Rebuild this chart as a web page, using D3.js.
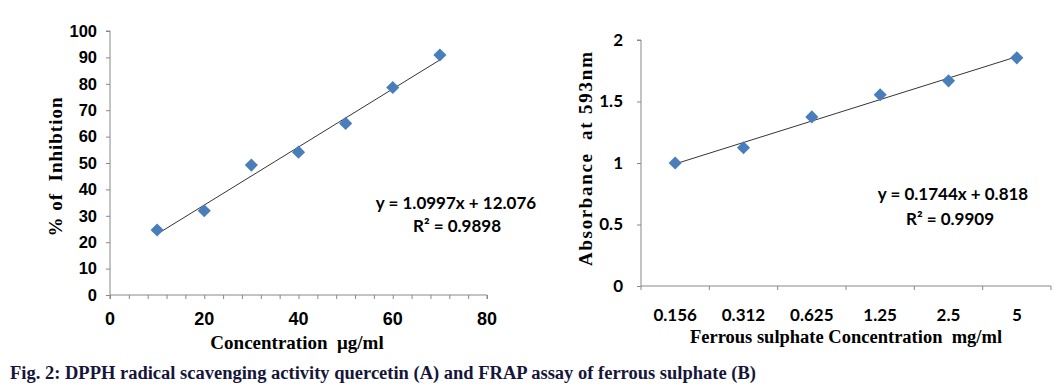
<!DOCTYPE html>
<html>
<head>
<meta charset="utf-8">
<script src="https://cdn.jsdelivr.net/npm/d3@7"></script>
<style>
  body { margin: 0; background: #fff; }
  svg text { fill: #000; }
</style>
</head>
<body>
<div id="chart"></div>
<script>
const width = 1054;
const height = 388;

// chart A: DPPH
const concA = [10, 20, 30, 40, 50, 60, 70];
const inhibA = [24.6, 31.9, 49.2, 54.1, 65.0, 78.6, 90.9];
const slopeA = 1.0997, interceptA = 12.076;
const eqA = 'y = 1.0997x + 12.076';
const r2A = 'R² = 0.9898';

// chart B: FRAP
const concB = ['0.156', '0.312', '0.625', '1.25', '2.5', '5'];
const absB = [1.0, 1.124, 1.375, 1.555, 1.668, 1.855];
const slopeB = 0.1744, interceptB = 0.818;
const eqB = 'y = 0.1744x + 0.818';
const r2B = 'R² = 0.9909';

const caption = 'Fig. 2: DPPH radical scavenging activity quercetin (A) and FRAP assay of ferrous sulphate (B)';

const blue = '#4a7ebb';
const serif = '"Liberation Serif", "Times New Roman", serif';
const sans = '"Liberation Sans", Arial, sans-serif';
const calib = 'Lato, "Open Sans", sans-serif';

const svg = d3.select('#chart').append('svg')
    .attr('width', width)
    .attr('height', height);

function diamond(g, x, y) {
    g.append('path')
        .attr('d', d3.symbol().type(d3.symbolDiamond2).size(110)())
        .attr('transform', `translate(${x},${y})`)
        .attr('fill', blue);
}

// ---------- chart A ----------
const xA = d3.scaleLinear().domain([0, 80]).range([110, 487]);
const yA = d3.scaleLinear().domain([0, 100]).range([295, 31]);

const gA = svg.append('g');

gA.append('g')
    .attr('transform', `translate(110,0)`)
    .call(d3.axisLeft(yA).tickValues(d3.range(0, 101, 10)).tickSize(4).tickPadding(9))
    .call(g => g.select('.domain').attr('stroke', '#888').attr('d', `M-4,${yA(100)}H0V${yA(0)}`))
    .call(g => g.selectAll('.tick line').attr('stroke', '#888'))
    .call(g => g.selectAll('.tick text').style('font', `bold 16.5px ${sans}`));

gA.append('g')
    .attr('transform', `translate(0,295)`)
    .call(d3.axisBottom(xA).tickValues(d3.range(0, 81, 4)).tickSize(4).tickFormat(() => ''))
    .call(g => g.select('.domain').attr('stroke', '#888').attr('d', `M${xA(0)},4V0H${xA(80)}V4`))
    .call(g => g.selectAll('.tick line').attr('stroke', '#888'));

gA.selectAll('.xlab')
    .data(d3.range(0, 81, 20))
    .join('text')
    .attr('x', d => xA(d))
    .attr('y', 325)
    .attr('text-anchor', 'middle')
    .style('font', `bold 18px ${sans}`)
    .text(d => d);

gA.append('line')
    .attr('x1', xA(10)).attr('y1', yA(slopeA * 10 + interceptA))
    .attr('x2', xA(70)).attr('y2', yA(slopeA * 70 + interceptA))
    .attr('stroke', '#000').attr('stroke-width', 0.8);

concA.forEach((c, i) => diamond(gA, xA(c), yA(inhibA[i])));

gA.append('text')
    .attr('x', 456).attr('y', 209)
    .attr('text-anchor', 'middle')
    .style('font', `bold 17px ${calib}`)
    .text(eqA);
gA.append('text')
    .attr('x', 457).attr('y', 232)
    .attr('text-anchor', 'middle')
    .style('font', `bold 17px ${calib}`)
    .text(r2A);

gA.append('text')
    .attr('transform', 'translate(62,167) rotate(-90)')
    .attr('text-anchor', 'middle')
    .attr('textLength', 139)
    .attr('lengthAdjust', 'spacing')
    .style('font', `bold 19px ${serif}`)
    .attr('xml:space', 'preserve')
    .text('% of  Inhibtion');

gA.append('text')
    .attr('x', 297).attr('y', 349)
    .attr('text-anchor', 'middle')
    .style('font', `bold 19px ${serif}`)
    .attr('xml:space', 'preserve')
    .text('Concentration  μg/ml');

// ---------- chart B ----------
const xB = d3.scaleBand().domain(concB).range([641, 1051]);
const yB = d3.scaleLinear().domain([0, 2]).range([286, 40]);

const gB = svg.append('g');

gB.append('g')
    .attr('transform', `translate(641,0)`)
    .call(d3.axisLeft(yB).tickValues([0, 0.5, 1, 1.5, 2]).tickSize(4).tickPadding(14).tickFormat(d => d))
    .call(g => g.select('.domain').attr('stroke', '#888').attr('d', `M-4,${yB(2)}H0V${yB(0)}`))
    .call(g => g.selectAll('.tick line').attr('stroke', '#888'))
    .call(g => g.selectAll('.tick text').style('font', `bold 17px ${calib}`));

const bounds = concB.map(c => xB(c)).concat([xB.range()[1]]);
gB.append('line')
    .attr('x1', 641).attr('x2', 1051).attr('y1', 286).attr('y2', 286)
    .attr('stroke', '#888');
gB.selectAll('.btick')
    .data(bounds)
    .join('line')
    .attr('x1', d => d).attr('x2', d => d)
    .attr('y1', 286).attr('y2', 290)
    .attr('stroke', '#888');

gB.selectAll('.xlab')
    .data(concB)
    .join('text')
    .attr('x', d => xB(d) + xB.bandwidth() / 2)
    .attr('y', 321)
    .attr('text-anchor', 'middle')
    .style('font', `bold 17px ${calib}`)
    .text(d => d);

const cx = i => xB(concB[i]) + xB.bandwidth() / 2;
gB.append('line')
    .attr('x1', cx(0)).attr('y1', yB(slopeB * 1 + interceptB))
    .attr('x2', cx(5)).attr('y2', yB(slopeB * 6 + interceptB))
    .attr('stroke', '#000').attr('stroke-width', 0.8);

absB.forEach((v, i) => diamond(gB, cx(i), yB(v)));

gB.append('text')
    .attr('x', 953).attr('y', 200)
    .attr('text-anchor', 'middle')
    .style('font', `bold 17px ${calib}`)
    .text(eqB);
gB.append('text')
    .attr('x', 950).attr('y', 225)
    .attr('text-anchor', 'middle')
    .style('font', `bold 17px ${calib}`)
    .text(r2B);

// y label of chart B, two spread-out words
gB.append('text')
    .attr('transform', 'translate(592,210) rotate(-90)')
    .attr('text-anchor', 'middle')
    .attr('textLength', 112)
    .attr('lengthAdjust', 'spacing')
    .style('font', `bold 19px ${serif}`)
    .text('Absorbance');
gB.append('text')
    .attr('transform', 'translate(592,96) rotate(-90)')
    .attr('text-anchor', 'middle')
    .attr('textLength', 88)
    .attr('lengthAdjust', 'spacing')
    .style('font', `bold 19px ${serif}`)
    .text('at 593nm');

gB.append('text')
    .attr('x', 846).attr('y', 343)
    .attr('text-anchor', 'middle')
    .style('font', `bold 18.5px ${serif}`)
    .attr('xml:space', 'preserve')
    .text('Ferrous sulphate Concentration  mg/ml');

// caption
svg.append('text')
    .attr('x', 10).attr('y', 379)
    .style('font', `bold 18.5px ${serif}`)
    .style('fill', '#16163a')
    .text(caption);
</script>
</body>
</html>
